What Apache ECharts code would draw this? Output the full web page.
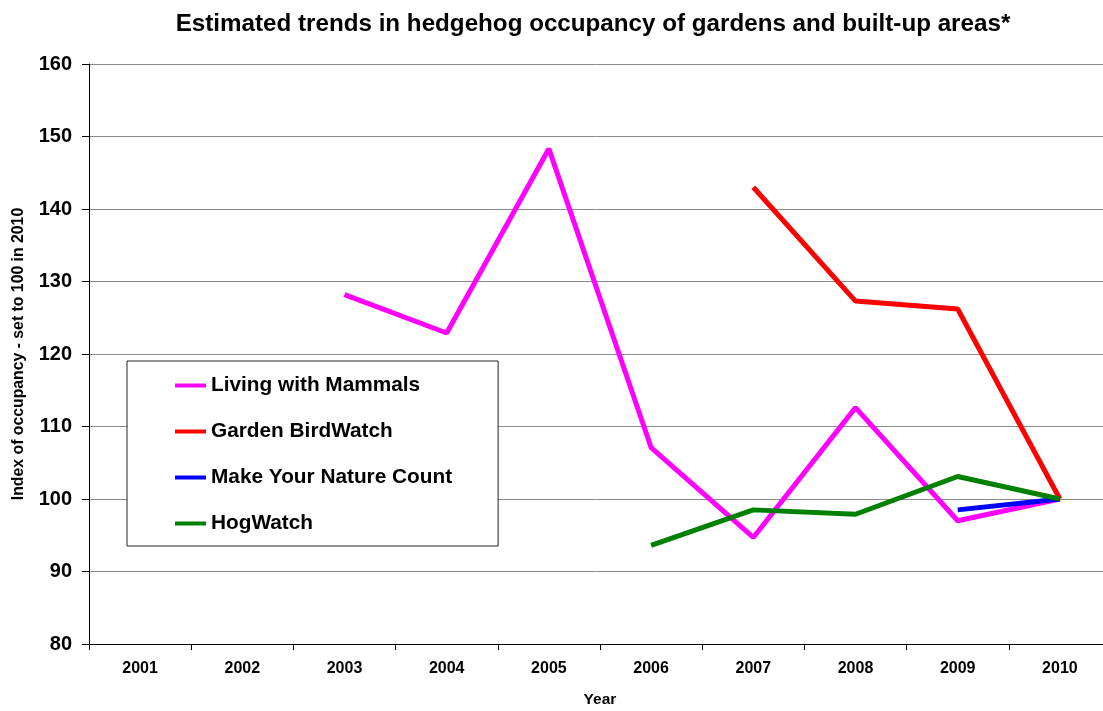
<!DOCTYPE html>
<html>
<head>
<meta charset="utf-8">
<title>Hedgehog occupancy trends</title>
<script src="https://cdn.jsdelivr.net/npm/echarts@6/dist/echarts.min.js"></script>
<style>
  html, body { margin: 0; padding: 0; background: #fff; }
  #chart { width: 1103px; height: 711px; }
</style>
</head>
<body>
<div id="chart"></div>
<script>
// Survey years on the category axis
const years = ['2001', '2002', '2003', '2004', '2005', '2006', '2007', '2008', '2009', '2010'];

// Index of occupancy (2010 = 100); null where a survey has no estimate
const livingWithMammals = [null, null, 128.2, 122.9, 148.3, 107.1, 94.7, 112.6, 97.0, 100];
const gardenBirdWatch   = [null, null, null, null, null, null, 143.0, 127.3, 126.2, 100];
const makeYourNatureCount = [null, null, null, null, null, null, null, null, 98.5, 100];
const hogWatch          = [null, null, null, null, null, 93.6, 98.5, 97.9, 103.1, 100];

const seriesNames = ['Living with Mammals', 'Garden BirdWatch', 'Make Your Nature Count', 'HogWatch'];
const seriesColors = ['#FF00FF', '#FF0000', '#0000FF', '#008000'];
const seriesData = [livingWithMammals, gardenBirdWatch, makeYourNatureCount, hogWatch];

const FONT = 'Liberation Sans, Arial, Helvetica, sans-serif';

const chart = echarts.init(document.getElementById('chart'), null, { renderer: 'canvas' });

chart.setOption({
  animation: false,
  backgroundColor: '#fff',
  textStyle: { fontFamily: FONT },
  title: {
    text: 'Estimated trends in hedgehog occupancy of gardens and built-up areas*',
    left: 588,
    textAlign: 'center',
    top: 7,
    textStyle: { fontFamily: FONT, fontSize: 24.2, fontWeight: 'bold', color: '#000' }
  },
  legend: {
    orient: 'vertical',
    left: 127,
    top: 361,
    data: seriesNames,
    icon: 'rect',
    itemWidth: 31,
    itemHeight: 4,
    itemGap: 25,
    padding: [14, 46, 12, 48],
    backgroundColor: '#fff',
    borderColor: '#222',
    borderWidth: 1,
    selectedMode: false,
    textStyle: { fontFamily: FONT, fontSize: 20.8, fontWeight: 'bold', color: '#000', lineHeight: 20 }
  },
  grid: { left: 89, top: 64, width: 1022, height: 580, containLabel: false, outerBoundsMode: 'none' },
  xAxis: {
    type: 'category',
    data: years,
    boundaryGap: true,
    name: 'Year',
    nameLocation: 'middle',
    nameGap: 48,
    nameTextStyle: { fontFamily: FONT, fontSize: 15.5, fontWeight: 'bold', color: '#000' },
    axisLine: { lineStyle: { color: '#000', width: 1 } },
    axisTick: { show: true, interval: 0, length: 6, lineStyle: { color: '#000' } },
    axisLabel: { interval: 0, margin: 17, fontFamily: FONT, fontSize: 16, fontWeight: 'bold', color: '#000' },
    splitLine: { show: false }
  },
  yAxis: {
    type: 'value',
    min: 80,
    max: 160,
    interval: 10,
    name: 'Index of occupancy - set to 100 in 2010',
    nameLocation: 'middle',
    nameGap: 62,
    nameTextStyle: { fontFamily: FONT, fontSize: 15.8, fontWeight: 'bold', color: '#000', padding: [0, 0, 0, 0] },
    axisLine: { show: true, lineStyle: { color: '#000', width: 1 } },
    axisTick: { show: true, length: 7, lineStyle: { color: '#000' } },
    axisLabel: { margin: 17, fontFamily: FONT, fontSize: 20, fontWeight: 'bold', color: '#000' },
    splitLine: { show: true, lineStyle: { color: '#8a8a8a', width: 1 } }
  },
  series: seriesNames.map((name, i) => ({
    name: name,
    type: 'line',
    data: seriesData[i],
    symbol: 'none',
    connectNulls: false,
    color: seriesColors[i],
    lineStyle: { color: seriesColors[i], width: 5 },
    z: 2 + i
  }))
});
</script>
</body>
</html>
